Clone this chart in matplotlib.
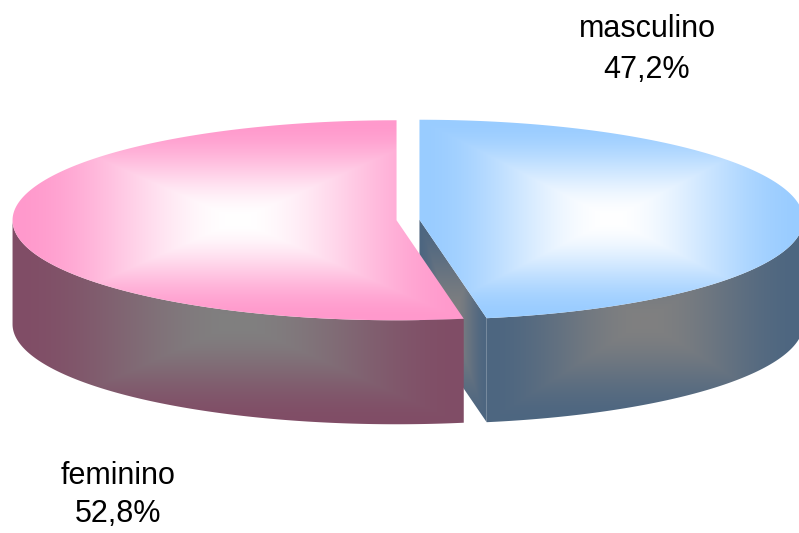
import numpy as np
import matplotlib
matplotlib.use("Agg")
import matplotlib.pyplot as plt
from matplotlib.patches import Polygon

# data
labels = ["masculino", "feminino"]
shares = [47.2, 52.8]
top_colors = ["#99CCFF", "#FF99CC"]
side_colors = ["#4D6680", "#804D66"]

W, H = 799, 533
cx, cy = 408.0, 220.0
rx, ry = 384.0, 100.0
depth = 104.0
explode = 11.5

fig = plt.figure(figsize=(W / 100, H / 100), dpi=100)
ax = fig.add_axes([0, 0, 1, 1])
ax.set_xlim(0, W)
ax.set_ylim(H, 0)
ax.axis("off")

xx, yy = np.meshgrid(np.arange(W) + 0.5, np.arange(H) + 0.5)


def rgb(c):
    return np.array(matplotlib.colors.to_rgb(c))


def box_gradient(pts, inner, outer, z):
    # rectangular "from centre" gradient over the bounding box of the shape
    x0, x1 = pts[:, 0].min(), pts[:, 0].max()
    y0, y1 = pts[:, 1].min(), pts[:, 1].max()
    mx, my = (x0 + x1) / 2, (y0 + y1) / 2
    t = np.maximum(np.abs(xx - mx) / ((x1 - x0) / 2),
                   np.abs(yy - my) / ((y1 - y0) / 2))
    t = np.clip(t, 0, 1)
    t = (3 * t**2 - 2 * t**3)[..., None]
    arr = (1 - t) * rgb(inner) + t * rgb(outer)
    patch = Polygon(pts, closed=True, facecolor="none", edgecolor="none")
    ax.add_patch(patch)
    im = ax.imshow(arr, extent=(0, W, H, 0), origin="upper",
                   interpolation="bilinear", zorder=z)
    im.set_clip_path(patch)


def pt(a, ox, oy, dz=0.0):
    r = np.radians(a)
    return np.column_stack([cx + ox + rx * np.cos(r), cy + oy - ry * np.sin(r) + dz])


start = 90.0
z = 1
for lab, val, tc, sc in zip(labels, shares, top_colors, side_colors):
    a0 = start
    a1 = start - val / 100 * 360
    start = a1
    mid = np.radians((a0 + a1) / 2)
    ox = explode * np.cos(mid)
    oy = -explode * ry / rx * np.sin(mid)
    c = np.array([[cx + ox, cy + oy]])

    # radial walls facing the viewer
    walls = []
    if np.cos(np.radians(a0)) < -1e-6:
        walls.append(a0)
    if np.cos(np.radians(a1)) > 1e-6:
        walls.append(a1)
    for a in walls:
        e = pt(np.array([a]), ox, oy)
        wall = np.vstack([c, e, e + [0, depth], c + [0, depth]])
        box_gradient(wall, "#808080", sc, z)
        ax.plot(wall[[1, 2], 0], wall[[1, 2], 1], color="white", lw=0.8, alpha=0.6, zorder=z + 0.5)
        z += 1

    # outer side, front half only
    for k in range(-2, 2):
        lo, hi = max(a1, -180 + 360 * k), min(a0, 360 * k)
        if hi - lo > 0.1:
            arc = np.linspace(hi, lo, 200)
            top = pt(arc, ox, oy)
            bot = pt(arc[::-1], ox, oy, depth)
            box_gradient(np.vstack([top, bot]), "#808080", sc, z)
            z += 1

    # top face
    arc = np.linspace(a0, a1, 300)
    box_gradient(np.vstack([c, pt(arc, ox, oy)]), "white", tc, z)
    z += 1

# labels
font = "Liberation Sans"
pcts = [f"{v:.1f}%".replace(".", ",") for v in shares]
ax.text(647, 37, labels[0], ha="center", va="baseline", fontsize=22, family=font, zorder=z)
ax.text(647, 78, pcts[0], ha="center", va="baseline", fontsize=22, family=font, zorder=z)
ax.text(118, 484, labels[1], ha="center", va="baseline", fontsize=22, family=font, zorder=z)
ax.text(118, 522, pcts[1], ha="center", va="baseline", fontsize=22, family=font, zorder=z)

fig.savefig("out.png", dpi=100)
